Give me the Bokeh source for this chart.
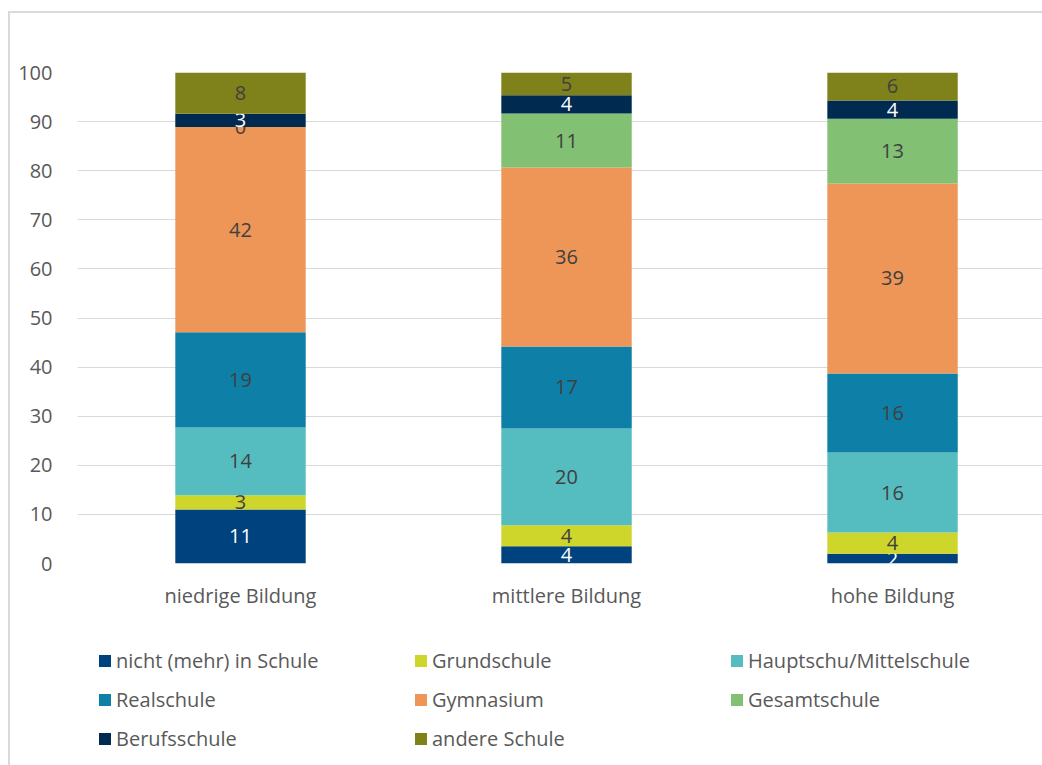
import numpy as np
from bokeh.plotting import figure
from bokeh.layouts import column
from bokeh.models import Range1d, FixedTicker, Legend, LegendItem, ColumnDataSource
from bokeh.core.properties import value
from bokeh.embed import file_html
from bokeh.resources import INLINE

categories = ["niedrige Bildung", "mittlere Bildung", "hohe Bildung"]
series_names = ["nicht (mehr) in Schule", "Grundschule", "Hauptschu/Mittelschule",
                "Realschule", "Gymnasium", "Gesamtschule", "Berufsschule", "andere Schule"]
nicht = [11.0, 3.5, 2.0]
grund = [2.9, 4.3, 4.3]
haupt = [13.8, 19.7, 16.3]
real = [19.4, 16.7, 16.1]
gym = [41.8, 36.45, 38.7]
gesamt = [0.0, 11.0, 13.2]
beruf = [2.7, 3.7, 3.7]
andere = [8.4, 4.65, 5.7]
y_ticks = [0, 10, 20, 30, 40, 50, 60, 70, 80, 90, 100]

series = [nicht, grund, haupt, real, gym, gesamt, beruf, andere]
colors = ["#00427E", "#CFD62B", "#55BCC0", "#0E7FA6", "#EE9658", "#82C073", "#002A4F", "#7F821B"]
label_colors = ["#FFFFFF", "#404040", "#404040", "#404040", "#404040", "#404040", "#FFFFFF", "#404040"]

FONT = "Open Sans"
FS = "20px"

p = figure(width=1032, height=610, output_backend="svg", toolbar_location=None,
           x_range=Range1d(0, 2.96), y_range=Range1d(0, 100),
           min_border_left=67, min_border_top=59, min_border_right=0, min_border_bottom=60)
p.outline_line_color = None
p.background_fill_color = "white"
p.border_fill_color = "white"

# legend panel (its own plot, placed under the chart); its data lie outside its view
p2 = figure(width=1032, height=142, output_backend="svg", toolbar_location=None,
            x_range=Range1d(0, 2.96), y_range=Range1d(1000, 1001),
            x_axis_type=None, y_axis_type=None,
            min_border_left=0, min_border_right=0, min_border_top=0, min_border_bottom=0)
p2.outline_line_color = None
p2.border_fill_color = "white"
p2.background_fill_color = "white"

xs = [i + 0.5 for i in range(len(categories))]
bottom = np.zeros(len(categories))
legend_items = []
for name, vals, col, lc in zip(series_names, series, colors, label_colors):
    vals = np.array(vals, dtype=float)
    top = bottom + vals
    src = ColumnDataSource(dict(x=xs, bottom=bottom.copy(), top=top,
                                mid=(bottom + top) / 2,
                                lab=[str(int(round(v))) for v in vals]))
    p.vbar(x="x", bottom="bottom", top="top", width=0.4, source=src,
           fill_color=col, line_color=None)
    p.text(x="x", y="mid", text="lab", source=src, text_align="center",
           text_baseline="middle", text_color=lc, text_font=value(FONT),
           text_font_size=FS)
    r2 = p2.vbar(x="x", bottom="bottom", top="top", width=0.4, source=src,
                 fill_color=col, line_color=None)
    legend_items.append(LegendItem(label=name, renderers=[r2]))
    bottom = top

p.xaxis.ticker = FixedTicker(ticks=xs)
p.xaxis.major_label_overrides = {x: c for x, c in zip(xs, categories)}
p.yaxis.ticker = FixedTicker(ticks=y_ticks)
for ax in (p.xaxis[0], p.yaxis[0]):
    ax.axis_line_color = None
    ax.major_tick_line_color = None
    ax.minor_tick_line_color = None
    ax.major_label_text_font = FONT
    ax.major_label_text_font_size = FS
    ax.major_label_text_color = "#595959"
p.xaxis.major_label_standoff = 12
p.yaxis.major_label_standoff = 19
p.xgrid.grid_line_color = None
p.ygrid.grid_line_color = "#D9D9D9"
p.ygrid.grid_line_width = 1

legend = Legend(items=legend_items, location=(20, 7), orientation="horizontal", ncols=3,
                glyph_width=15, glyph_height=15, label_standoff=4, label_width=297,
                label_height=39, spacing=0, padding=0, margin=0,
                border_line_color=None, background_fill_alpha=0,
                label_text_font=FONT, label_text_font_size=FS, label_text_color="#595959")
p2.add_layout(legend, "center")

layout = column(p, p2, spacing=0)
layout.styles = {"border-left": "2px solid #d9d9d9", "border-top": "2px solid #d9d9d9",
                 "margin-top": "11px", "margin-left": "8px"}

open("out.html", "w").write(file_html(layout, INLINE))
